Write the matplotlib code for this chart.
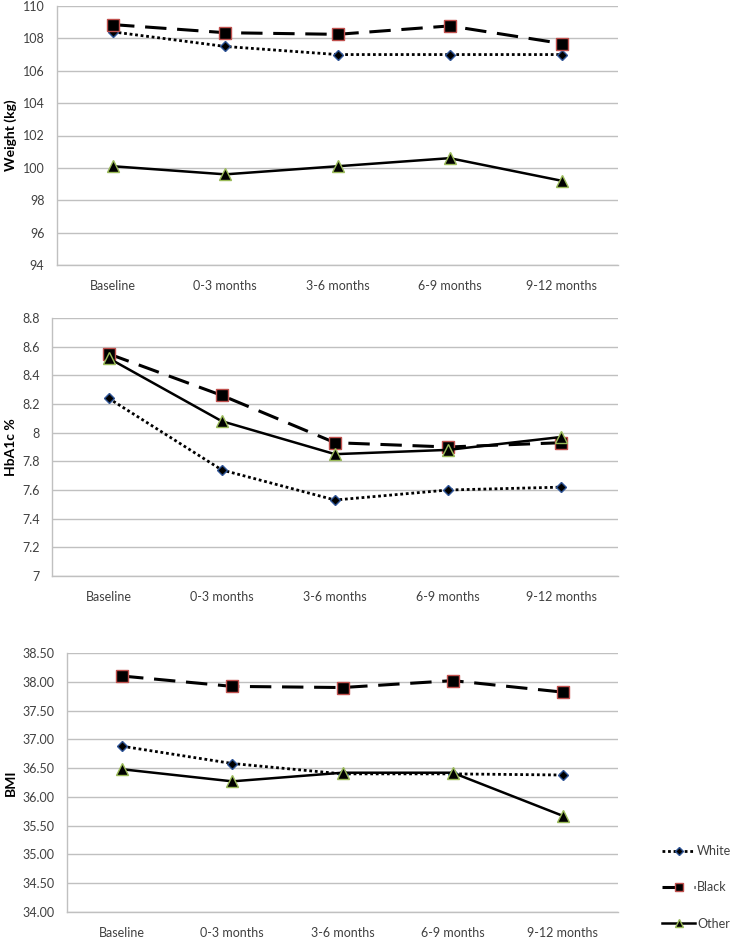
import matplotlib
matplotlib.use("Agg")
import matplotlib.pyplot as plt

plt.rcParams['font.family'] = ['Lato', 'DejaVu Sans']

# Donnees
periodes = ["Baseline", "0-3 months", "3-6 months", "6-9 months", "9-12 months"]
groupes = ["White", "Black", "Other"]

poids_white = [108.4, 107.5, 107.0, 107.0, 107.0]
poids_black = [108.85, 108.35, 108.25, 108.77, 107.68]
poids_other = [100.1, 99.6, 100.1, 100.6, 99.2]

hba1c_white = [8.24, 7.74, 7.53, 7.60, 7.62]
hba1c_black = [8.55, 8.26, 7.93, 7.90, 7.93]
hba1c_other = [8.52, 8.08, 7.85, 7.88, 7.97]

bmi_white = [36.88, 36.58, 36.40, 36.40, 36.38]
bmi_black = [38.10, 37.92, 37.90, 38.02, 37.82]
bmi_other = [36.48, 36.27, 36.42, 36.42, 35.67]

poids_ticks = [94, 96, 98, 100, 102, 104, 106, 108, 110]
hba1c_ticks = [7, 7.2, 7.4, 7.6, 7.8, 8, 8.2, 8.4, 8.6, 8.8]
hba1c_labels = ["7", "7.2", "7.4", "7.6", "7.8", "8", "8.2", "8.4", "8.6", "8.8"]
bmi_ticks = [34.0, 34.5, 35.0, 35.5, 36.0, 36.5, 37.0, 37.5, 38.0, 38.5]

# Styles des series
styles = {
    "White": dict(color="black", linestyle=(0, (1, 1.0)), linewidth=2.0,
                  marker="D", markersize=5.5, markerfacecolor="black",
                  markeredgecolor="#2f5597", markeredgewidth=1.0),
    "Black": dict(color="black", linestyle=(0, (7, 3.5)), linewidth=2.2,
                  marker="s", markersize=8, markerfacecolor="black",
                  markeredgecolor="#c0504d", markeredgewidth=1.0),
    "Other": dict(color="black", linestyle="-", linewidth=1.8,
                  marker="^", markersize=8, markerfacecolor="black",
                  markeredgecolor="#9bbb59", markeredgewidth=1.0),
}

GRIS = "#c0c0c0"
TXT = "#404040"
W, H = 734.0, 941.0


def trace_panneau(ax, series, ticks, labels, ylabel):
    """Trace un panneau avec les trois groupes."""
    x = range(len(periodes))
    lignes = []
    for nom, valeurs in zip(groupes, series):
        l, = ax.plot(x, valeurs, label=nom, **styles[nom])
        lignes.append(l)
    ax.set_xlim(-0.5, len(periodes) - 0.5)
    ax.set_ylim(ticks[0], ticks[-1])
    ax.set_yticks(ticks)
    ax.set_yticklabels(labels, fontsize=9, color=TXT)
    ax.set_xticks(list(x))
    ax.set_xticklabels(periodes, fontsize=9, color=TXT)
    ax.tick_params(length=0, axis="x", pad=11)
    ax.tick_params(length=0, axis="y", pad=9)
    ax.grid(axis="y", color=GRIS, linewidth=1.0)
    ax.set_axisbelow(True)
    for s in ["top", "right"]:
        ax.spines[s].set_visible(False)
    for s in ["left", "bottom"]:
        ax.spines[s].set_color(GRIS)
        ax.spines[s].set_linewidth(1.0)
    ax.set_ylabel(ylabel, fontsize=10, fontweight="bold", color="black")
    # bord droit du titre de l'axe y vers x = 17 px
    pos = ax.get_position()
    ax.yaxis.set_label_coords((17 / W - pos.x0) / pos.width, 0.5)
    return lignes


fig = plt.figure(figsize=(7.34, 9.41), dpi=100)

ax1 = fig.add_axes([57 / W, 1 - 265 / H, 561 / W, 259 / H])
trace_panneau(ax1, [poids_white, poids_black, poids_other], poids_ticks,
              [str(t) for t in poids_ticks], "Weight (kg)")

ax2 = fig.add_axes([52 / W, 1 - 576 / H, 566 / W, 258 / H])
trace_panneau(ax2, [hba1c_white, hba1c_black, hba1c_other], hba1c_ticks,
              hba1c_labels, "HbA1c %")

ax3 = fig.add_axes([67 / W, 1 - 912 / H, 551 / W, 259 / H])
lignes = trace_panneau(ax3, [bmi_white, bmi_black, bmi_other], bmi_ticks,
                       ["%.2f" % t for t in bmi_ticks], "BMI")

# Legende
fig.legend(lignes, groupes, loc="upper left", bbox_to_anchor=(0.887, 0.114),
           frameon=False, fontsize=9, handlelength=2.6, handletextpad=0.2,
           labelspacing=1.95, labelcolor=TXT, markerscale=0.7)

fig.savefig("out.png", dpi=100)
